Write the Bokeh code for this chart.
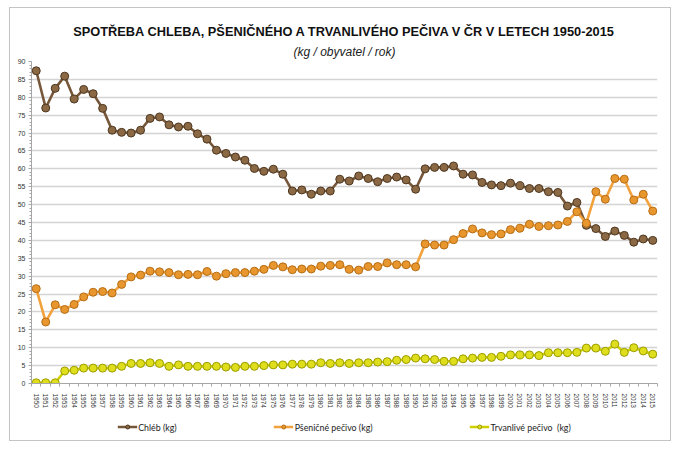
from bokeh.plotting import figure
from bokeh.layouts import column
from bokeh.models import Range1d, FixedTicker, Legend, LegendItem, Title
from bokeh.embed import file_html
from bokeh.resources import INLINE

years = list(range(1950, 2016))

chleb = [87.4, 77.0, 82.5, 85.9, 79.5, 82.2, 81.0, 76.9, 70.8, 70.2,
         70.0, 70.8, 74.1, 74.5, 72.3, 71.7, 71.9, 69.8, 68.3, 65.2,
         64.3, 63.3, 62.4, 60.1, 59.3, 59.9, 58.5, 53.8, 54.1, 52.9,
         53.8, 53.8, 57.1, 56.6, 58.0, 57.3, 56.4, 57.3, 57.7, 56.9,
         54.3, 60.0, 60.4, 60.4, 60.8, 58.5, 58.3, 56.2, 55.5, 55.3,
         56.0, 55.3, 54.5, 54.5, 53.6, 53.4, 49.6, 50.6, 44.2, 43.3,
         41.1, 42.6, 41.4, 39.5, 40.4, 40.0]

psenicne = [26.5, 17.2, 22.0, 20.7, 22.1, 24.2, 25.5, 25.7, 25.3, 27.7,
            29.8, 30.3, 31.4, 31.2, 31.0, 30.4, 30.5, 30.4, 31.3, 30.0,
            30.7, 31.0, 31.0, 31.4, 31.9, 33.0, 32.6, 31.8, 32.0, 32.0,
            32.8, 33.0, 33.2, 31.9, 31.7, 32.7, 32.7, 33.7, 33.2, 33.2,
            32.6, 39.0, 38.7, 38.7, 40.2, 41.9, 43.2, 42.1, 41.6, 41.8,
            43.0, 43.4, 44.5, 43.9, 44.1, 44.3, 45.3, 48.0, 44.8, 53.6,
            51.5, 57.3, 57.1, 51.3, 52.9, 48.2]

trvanlive = [0.2, 0.2, 0.2, 3.5, 3.7, 4.3, 4.3, 4.3, 4.3, 4.8,
             5.6, 5.6, 5.8, 5.6, 4.8, 5.2, 4.8, 4.8, 4.8, 4.8,
             4.6, 4.5, 4.8, 4.8, 5.0, 5.2, 5.2, 5.4, 5.4, 5.4,
             5.8, 5.6, 5.8, 5.6, 5.8, 5.8, 6.0, 6.1, 6.5, 6.7,
             7.1, 6.9, 6.7, 6.2, 6.2, 6.9, 7.1, 7.3, 7.3, 7.6,
             8.0, 8.0, 8.0, 7.8, 8.6, 8.6, 8.6, 8.7, 9.9, 9.9,
             9.0, 11.0, 8.7, 10.0, 9.1, 8.2]

series_names = ["Chléb (kg)", "Pšeničné pečivo (kg)", "Trvanlivé pečivo  (kg)"]
y_ticks = list(range(0, 91, 5))

title_text = "SPOTŘEBA CHLEBA, PŠENIČNÉHO A TRVANLIVÉHO PEČIVA V ČR V LETECH 1950-2015"
subtitle_text = "(kg / obyvatel / rok)"

x = [y - years[0] for y in years]
n = len(years)

W = 660
p = figure(width=W, height=405, output_backend="svg", toolbar_location=None,
           x_range=Range1d(-0.5, n - 0.5), y_range=Range1d(0, 90),
           min_border_left=21, min_border_right=13, min_border_top=53,
           min_border_bottom=30)
p.outline_line_color = None
p.background_fill_color = "white"
p.border_fill_color = "white"

p.title.text = title_text
p.title.align = "center"
p.title.text_font = "Liberation Sans"
p.title.text_font_size = "12.8px"
p.title.text_font_style = "bold"
p.title.text_color = "#111111"
p.title.standoff = 2
sub = Title(text=subtitle_text, align="center", text_font="Liberation Sans",
            text_font_size="12px", text_font_style="italic",
            text_color="#222222", standoff=6)
p.add_layout(sub, "above")

# grid
p.xgrid.grid_line_color = None
p.ygrid.ticker = FixedTicker(ticks=y_ticks)
p.ygrid.grid_line_color = "#d4d4d4"
p.ygrid.grid_line_width = 1.5

# y axis
p.yaxis.ticker = FixedTicker(ticks=y_ticks, minor_ticks=list(range(0, 91)))
p.yaxis.axis_line_color = "#a6a6a6"
p.yaxis.major_tick_line_color = "#a6a6a6"
p.yaxis.minor_tick_line_color = "#a6a6a6"
p.yaxis.major_tick_in = 0
p.yaxis.major_tick_out = 3
p.yaxis.minor_tick_in = 0
p.yaxis.minor_tick_out = 2
p.yaxis.major_label_text_font_size = "7px"
p.yaxis.major_label_text_font = "Liberation Sans"
p.yaxis.major_label_text_color = "#333333"
p.yaxis.major_label_standoff = 3

# x axis
p.xaxis.ticker = FixedTicker(ticks=x, minor_ticks=[i - 0.5 for i in range(n + 1)])
p.xaxis.major_label_overrides = {i: str(yr) for i, yr in zip(x, years)}
p.xaxis.major_label_orientation = "vertical"
p.xaxis.axis_line_color = "#a6a6a6"
p.xaxis.major_tick_line_color = None
p.xaxis.minor_tick_line_color = "#a6a6a6"
p.xaxis.minor_tick_in = 0
p.xaxis.minor_tick_out = 3
p.xaxis.major_label_text_font_size = "6.5px"
p.xaxis.major_label_text_font = "Liberation Sans"
p.xaxis.major_label_text_color = "#333333"
p.xaxis.major_label_standoff = 4

styles = [
    ("#76573a", "#8a6944", "#4e3720"),
    ("#f2a23c", "#e8962e", "#b66d16"),
    ("#cfcf00", "#dede1c", "#9c9c00"),
]

# legend strip below the chart (its ranges keep the series out of view,
# so only the legend entries are drawn there)
pl = figure(width=W, height=27, output_backend="svg", toolbar_location=None,
            x_axis_type=None, y_axis_type=None,
            x_range=Range1d(-3, -2), y_range=Range1d(-3, -2), min_border=0)
pl.outline_line_color = None
pl.border_fill_color = "white"
pl.background_fill_color = "white"

items = []
for name, vals, (lc, fc, oc) in zip(series_names, [chleb, psenicne, trvanlive], styles):
    p.line(x, vals, line_color=lc, line_width=2.6)
    p.scatter(x, vals, size=8, fill_color=fc, line_color=oc, line_width=1)
    l1 = pl.line(x, vals, line_color=lc, line_width=2.6)
    l2 = pl.scatter(x, vals, size=8, fill_color=fc, line_color=oc, line_width=1)
    items.append(LegendItem(label=name, renderers=[l1, l2]))

legend = Legend(items=items, orientation="horizontal", location="center",
                spacing=97, glyph_width=20, glyph_height=10, label_standoff=1,
                label_text_font="Lato", label_text_font_size="8.8px",
                label_text_color="#222222", border_line_color=None,
                background_fill_alpha=0, margin=0, padding=2)
pl.add_layout(legend, "center")

layout = column(p, pl, spacing=0,
                styles={"margin-left": "9px", "margin-top": "7px",
                        "border": "1px solid #c4c4c4"})

open("out.html", "w").write(file_html(layout, INLINE))
